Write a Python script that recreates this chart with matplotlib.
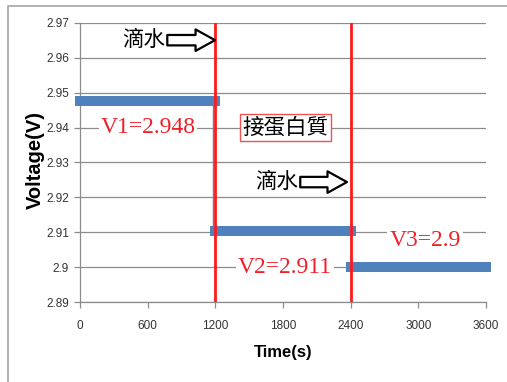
import matplotlib
matplotlib.use('Agg')
import matplotlib.pyplot as plt
import matplotlib.patches as mpatches

# datos
seg_inicio = [0, 1200, 2400]
seg_fin = [1200, 2400, 3600]
seg_voltaje = [2.9475, 2.9105, 2.9]
marcas_tiempo = [1200, 2400]

xticks = [0, 600, 1200, 1800, 2400, 3000, 3600]
yticks = [2.89, 2.9, 2.91, 2.92, 2.93, 2.94, 2.95, 2.96, 2.97]
ytick_labels = ['2.89', '2.9', '2.91', '2.92', '2.93', '2.94', '2.95', '2.96', '2.97']

etiquetas_v = ['V1=2.948', 'V2=2.911', 'V3=2.9']
pos_v = [(603, 2.94), (1818, 2.9), (3059, 2.9077)]

cjk = ['Noto Sans CJK TC', 'DejaVu Sans']
azul = '#4F81BD'
rojo = '#FF1A1A'
gris = '#8C8C8C'

fig = plt.figure(figsize=(5.07, 3.82), dpi=100)
fig.patch.set_facecolor('white')

# marco gris alrededor del grafico (como en Excel)
marco = mpatches.Rectangle((8 / 507, -0.1), 1.2, 1 - 6 / 382 + 0.1, transform=fig.transFigure,
                           fill=False, ec='#A6A6A6', lw=1.2)
fig.patches.append(marco)

ax = fig.add_axes([80 / 507, 1 - 302.3 / 382, 406 / 507, 279.6 / 382])
ax.set_xlim(0, 3600)
ax.set_ylim(2.89, 2.97)

for s in ['top', 'right']:
    ax.spines[s].set_visible(False)
for s in ['left', 'bottom']:
    ax.spines[s].set_color(gris)
    ax.spines[s].set_linewidth(0.9)

ax.set_xticks(xticks)
ax.set_xticklabels([str(t) for t in xticks])
ax.set_yticks(yticks)
ax.set_yticklabels(ytick_labels)
ax.tick_params(axis='both', color=gris, length=4, width=0.9, labelsize=8.5, labelcolor='#333333',
               direction='out')
ax.tick_params(axis='x', pad=9)
ax.tick_params(axis='y', pad=4)
for lab in ax.get_xticklabels() + ax.get_yticklabels():
    lab.set_family('Liberation Sans')

ax.yaxis.grid(True, color=gris, lw=0.9)
ax.set_axisbelow(True)

# conector del salto
ax.plot([1183, 1183], [seg_voltaje[0], seg_voltaje[1]], color=azul, lw=1, zorder=2)

# segmentos gruesos de voltaje
for x0, x1, v in zip(seg_inicio, seg_fin, seg_voltaje):
    ax.plot([x0, x1], [v, v], color=azul, lw=7.2, solid_capstyle='projecting', clip_on=False, zorder=3)

# lineas rojas de los eventos
for t in marcas_tiempo:
    ax.axvline(t, color=rojo, lw=2, zorder=4)

# etiquetas de voltaje
for txt, (x, y) in zip(etiquetas_v, pos_v):
    ax.text(x, y, txt, color='#F0202A', fontsize=17, family='Liberation Serif', ha='center', va='center',
            zorder=5, bbox=dict(boxstyle='square,pad=0.08', fc='white', ec='none'))

# anotaciones de goteo de agua
for (xt, yt, xa1) in [(754, 2.965, 1197), (1933, 2.9244, 2367)]:
    ax.text(xt, yt, '滴水', fontsize=15.5, family=cjk, ha='right', va='center', color='black', zorder=5)
    ax.annotate('', xy=(xa1, yt), xytext=(xt + 20, yt),
                arrowprops=dict(arrowstyle='simple,head_length=1.4,head_width=1.55,tail_width=0.75',
                                fc='white', ec='black', lw=1.6, shrinkA=0, shrinkB=0), zorder=5)

ax.text(1822, 2.94, '接蛋白質', fontsize=15.5, family=cjk, ha='center', va='center', color='black',
        zorder=5, bbox=dict(boxstyle='square,pad=0.12', fc='white', ec='#F05050', lw=1))

fig.text(35 / 507, 1 - 160 / 382, 'Voltage(V)', rotation=90, ha='center', va='center',
         fontsize=14.5, fontweight='bold', family='Liberation Sans')
fig.text(283 / 507, 1 - 352 / 382, 'Time(s)', ha='center', va='center',
         fontsize=12, fontweight='bold', family='Liberation Sans')

fig.savefig('out.png', dpi=100)
